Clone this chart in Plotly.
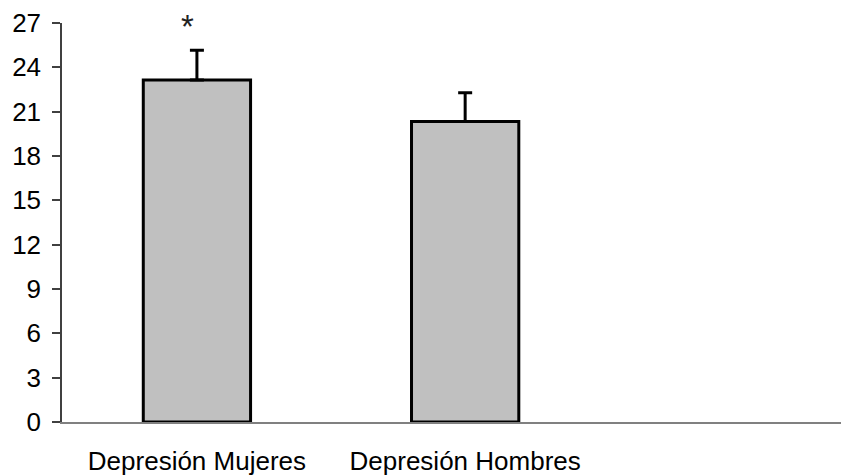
import plotly.graph_objects as go

categories = ["Depresión Mujeres", "Depresión Hombres"]
means = [23.15, 20.33]
errors = [2.0, 1.95]
y_ticks = [0, 3, 6, 9, 12, 15, 18, 21, 24, 27]
sig_marks = ["*", ""]

x_pos = list(range(len(categories)))

fig = go.Figure()
fig.add_trace(go.Bar(
    x=x_pos, y=means, width=0.4,
    marker=dict(color="#c0c0c0", line=dict(color="black", width=3)),
    error_y=dict(type="data", array=errors, arrayminus=[0] * len(errors),
                 symmetric=False, color="black", thickness=3, width=7),
    showlegend=False,
))

for xp, s in zip(x_pos, sig_marks):
    if s:
        fig.add_annotation(x=xp - 0.035, xref="x", y=0.99, yref="paper", text=s,
                           showarrow=False, yanchor="middle",
                           font=dict(family="Liberation Sans, Arial", size=33, color="#222222"))

fig.update_layout(
    width=841, height=468,
    margin=dict(l=54, r=0, t=12, b=54),
    paper_bgcolor="white", plot_bgcolor="white",
    font=dict(family="Liberation Sans, Arial", color="black"),
    xaxis=dict(range=[-0.503, 2.431], tickvals=x_pos, ticktext=categories,
               showline=True, linecolor="#808080", linewidth=2,
               showgrid=False, zeroline=False, ticks="",
               tickfont=dict(size=26, color="black"), ticklabelstandoff=15),
    yaxis=dict(range=[0, 27], tickvals=y_ticks, showline=True, linecolor="#404040",
               linewidth=1.5, ticks="outside", ticklen=8, tickcolor="#404040",
               tickwidth=1.5, showgrid=False, zeroline=False,
               ticklabeloverflow="allow",
               tickfont=dict(size=26, color="black"), ticklabelstandoff=6),
)

fig.write_html("out.html")
